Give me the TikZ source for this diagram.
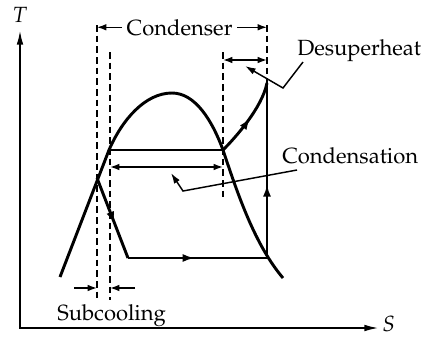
\documentclass[tikz,border=0pt]{standalone}
\usepackage[T1]{fontenc}
\usepackage{mathpazo}
\usetikzlibrary{arrows.meta,decorations.markings}
\begin{document}
\begin{tikzpicture}[x=0.75pt,y=-0.75pt,
    font=\fontsize{16.5}{19}\selectfont,
    axis/.style={line width=1.5pt,{Latex[length=11pt,width=5pt]}-{Latex[length=11pt,width=5pt]}},
    cyc/.style={line width=2.2pt},
    guide/.style={line width=1.1pt,dash pattern=on 5pt off 3pt},
    dim/.style={line width=1.1pt,-{Latex[length=7pt,width=5pt]}},
    dimboth/.style={line width=1.1pt,{Latex[length=7pt,width=5pt]}-{Latex[length=7pt,width=5pt]}},
    lead/.style={line width=1.1pt,-{Latex[length=8pt,width=5pt]}},
    midarrow/.style={postaction={decorate},decoration={markings,
        mark=at position #1 with {\arrow{Latex[length=9pt,width=6pt]}}}}]
    \useasboundingbox (0,0) rectangle (435,337);
    % axes
    \coordinate (O) at (20,328);
    \coordinate (Ttop) at (20,30);
    \coordinate (Send) at (379,328);
    \draw[axis] (Ttop) -- (O) -- (Send);
    \node (Tlab) at (20,15) {$T$};
    \node[anchor=west,inner sep=0pt] (Slab) at (382,324) {$S$};
    % state points
    \coordinate (sub) at (97,178);
    \coordinate (liq) at (109,150);
    \coordinate (crit) at (172,93);
    \coordinate (vap) at (223,150);
    \coordinate (evin) at (128,258);
    \coordinate (evout) at (267,258);
    \coordinate (hot) at (267,83);
    % saturation dome
    \draw[cyc] (60,277) -- (liq)
        .. controls (122,120) and (145,93) .. (crit)
        .. controls (195,93) and (212,120) .. (vap)
        .. controls (238,195) and (255,245) .. (283,278);
    % cycle
    \draw[cyc] (liq) -- (vap);
    \draw[cyc,midarrow=0.57] (sub) -- (evin);
    \draw[cyc,midarrow=0.48] (evin) -- (evout);
    \draw[cyc,midarrow=0.42] (evout) -- (hot);
    \draw[cyc,midarrow=0.52] (vap) .. controls (235,138) and (262,108) .. (hot);
    % guide lines
    \coordinate (g1) at (97,25);
    \coordinate (g2) at (110,52);
    \coordinate (g3) at (223,52);
    \coordinate (g4) at (267,25);
    \draw[guide] (g1) -- (97,300);
    \draw[guide] (g2) -- (110,300);
    \draw[guide] (g3) -- (223,200);
    \draw[guide] (g4) -- (hot);
    % condenser
    \node[anchor=base west] (cond) at (122,35) {Condenser};
    \draw[dim] (cond.west) -- (cond.west -| g1);
    \draw[dim] (cond.east) -- (cond.east -| g4);
    % desuperheat
    \coordinate (ds1) at (223,60);
    \coordinate (ds2) at (267,60);
    \draw[dimboth] (ds1) -- (ds2);
    \node[anchor=base west,inner sep=0pt] (dsup) at (297,55) {Desuperheat};
    \coordinate (dsk) at (283,88);
    \draw[lead] (303,62) -- (dsk) -- (245,66);
    % condensation
    \coordinate (cd1) at (110,167);
    \coordinate (cd2) at (223,167);
    \draw[dimboth] (cd1) -- (cd2);
    \node[anchor=base west,inner sep=0pt] (cnd) at (282,163) {Condensation};
    \coordinate (cdk) at (183,191);
    \draw[lead] (297,170) -- (cdk) -- (171,173);
    % subcooling
    \coordinate (sc1) at (74,288);
    \coordinate (sc2) at (135,288);
    \draw[dim] (sc1) -- (sc1 -| g1);
    \draw[dim] (sc2) -- (sc2 -| g2);
    \node[anchor=base west,inner sep=0pt] (subc) at (57,320) {Subcooling};
\end{tikzpicture}
\end{document}
